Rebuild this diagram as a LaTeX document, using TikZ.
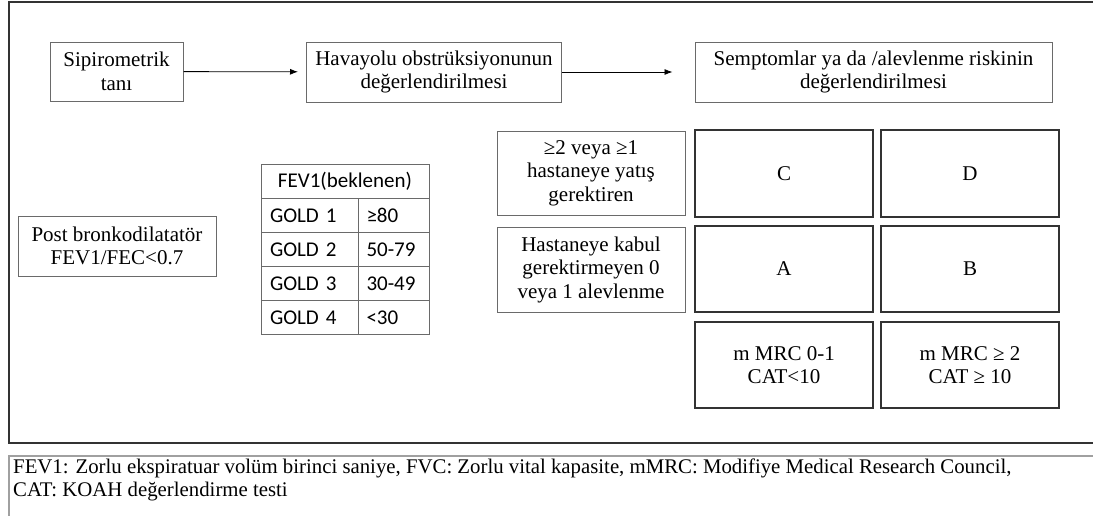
\documentclass[tikz,border=0pt]{standalone}
\usepackage{fontspec}
\setmainfont{Liberation Serif}
\newfontfamily\tablefont{Carlito}
\usetikzlibrary{arrows.meta}
\definecolor{boxgray}{HTML}{6A6A6A}
\definecolor{griddark}{HTML}{333333}
\definecolor{capgray}{HTML}{A0A0A0}
\tikzset{
  tbox/.style={draw=boxgray, line width=1pt, inner sep=0pt, align=center,
    font=\fontsize{21}{23.5}\selectfont},
  gbox/.style={draw=griddark, line width=1.4pt, inner sep=0pt, align=center,
    minimum width=178pt, font=\fontsize{21}{23.5}\selectfont},
  tcell/.style={draw=boxgray, line width=1pt, inner sep=0pt,
    font=\tablefont\fontsize{21}{24}\selectfont, minimum height=34pt},
  gcell/.style={tcell, minimum width=97pt, anchor=north west, text width=80pt, align=left},
  vcell/.style={tcell, minimum width=71pt, anchor=north west, text width=55pt, align=left},
  flow/.style={-{Latex[length=8pt,width=6pt]}, line width=0.8pt, black}
}
\begin{document}
\begin{tikzpicture}[x=1pt,y=-1pt]
\useasboundingbox (0,0) rectangle (1093,515);
% outer frame
\draw[griddark, line width=1.5pt] (1100,2) -- (9,2) -- (9,443) -- (1100,443);
% caption box
\draw[capgray, line width=1.2pt] (1100,456) -- (9,456) -- (9,520);
\node[anchor=north west, inner sep=0pt, align=left,
  font=\fontsize{20.8}{23}\selectfont] (cap) at (13,459)
  {FEV1: Zorlu ekspiratuar volüm birinci saniye, FVC: Zorlu vital kapasite, mMRC: Modifiye Medical Research Council,\\
   CAT: KOAH değerlendirme testi};
% top row
\node[tbox, minimum width=133pt, minimum height=59pt] (spiro) at (116.5,71.5) {Sipirometrik\\tanı};
\node[tbox, minimum width=255pt, minimum height=60pt] (hava) at (434,72) {Havayolu obstrüksiyonunun\\değerlendirilmesi};
\node[tbox, minimum width=357pt, minimum height=60pt] (semp) at (873.5,72) {Semptomlar ya da /alevlenme riskinin\\değerlendirilmesi};
\draw[flow, shorten >=8pt] (spiro) -- (hava);
\draw[flow, shorten >=22pt] (hava.east) -- (semp.west);
% left box
\node[tbox, minimum width=198pt, minimum height=60pt] (post) at (117,246) {Post bronkodilatatör\\FEV1/FEC<0.7};
% table
\node[tcell, minimum width=168pt] (th) at (345,181) {FEV1(beklenen)};
\node[gcell] (g1) at (261,198) {GOLD 1};
\node[vcell] (v1) at (358,198) {≥80};
\node[gcell] (g2) at (261,232) {GOLD 2};
\node[vcell] (v2) at (358,232) {50-79};
\node[gcell] (g3) at (261,266) {GOLD 3};
\node[vcell] (v3) at (358,266) {30-49};
\node[gcell] (g4) at (261,300) {GOLD 4};
\node[vcell] (v4) at (358,300) {<30};
% row labels
\node[tbox, minimum width=188pt, minimum height=84pt] (ex2) at (591,173) {≥2 veya ≥1\\hastaneye yatış\\gerektiren};
\node[tbox, minimum width=188pt, minimum height=85pt] (ex0) at (591,269.5) {Hastaneye kabul\\gerektirmeyen 0\\veya 1 alevlenme};
% grid
\node[gbox, minimum height=87pt] (C) at (784,173.5) {C};
\node[gbox, minimum height=87pt] (D) at (970,173.5) {D};
\node[gbox, minimum height=86pt] (A) at (784,269) {A};
\node[gbox, minimum height=86pt] (B) at (970,269) {B};
\node[gbox, minimum height=86pt] (m1) at (784,365) {m MRC 0-1\\CAT<10};
\node[gbox, minimum height=86pt] (m2) at (970,365) {m MRC ≥ 2\\CAT ≥ 10};
\end{tikzpicture}
\end{document}
